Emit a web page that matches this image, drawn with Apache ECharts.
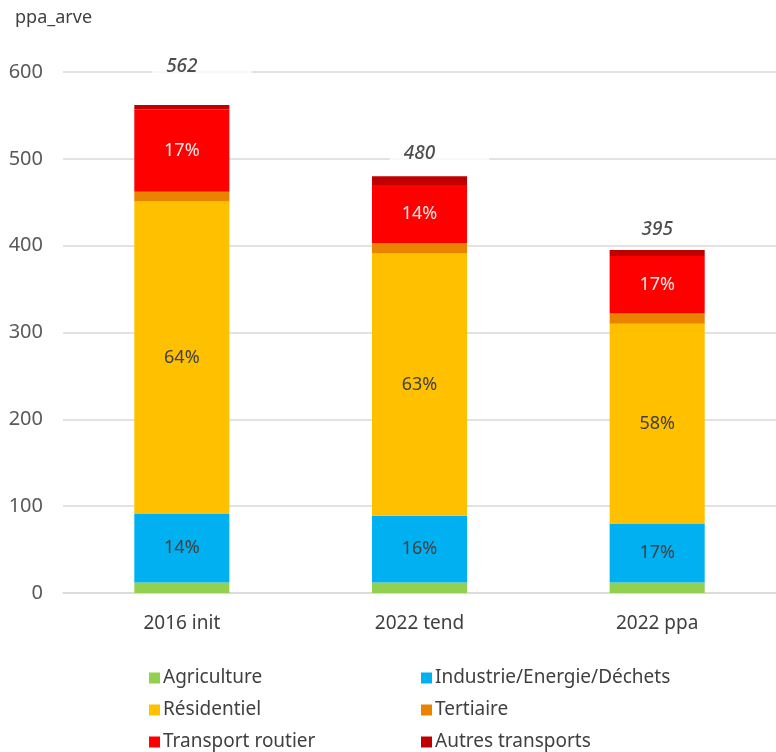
<!DOCTYPE html>
<html>
<head>
<meta charset="utf-8">
<script src="https://cdn.jsdelivr.net/npm/echarts@6/dist/echarts.min.js"></script>
<style>html,body{margin:0;padding:0;background:#fff}#c{width:776px;height:752px}</style>
</head>
<body>
<div id="c"></div>
<script>
const categories = ['2016 init', '2022 tend', '2022 ppa'];
const yTicks = [0, 100, 200, 300, 400, 500, 600];
const agriculture = [12, 12, 12];
const industrie = [79, 77, 68];
const residentiel = [360, 302, 230];
const tertiaire = [11, 12, 12];
const transportRoutier = [95, 67, 66];
const autresTransports = [5, 10, 7];
const seriesNames = ['Agriculture', 'Industrie/Energie/Déchets', 'Résidentiel', 'Tertiaire', 'Transport routier', 'Autres transports'];
const pctShown = [false, true, true, false, true, false];

const FONT = 'Noto Sans';
const colors = ['#92D050', '#00B0F0', '#FFC000', '#E98300', '#FF0000', '#C00000'];
const pctColors = ['#404040', '#404040', '#404040', '#404040', '#FFE8E8', '#404040'];
const all = [agriculture, industrie, residentiel, tertiaire, transportRoutier, autresTransports];
const totals = categories.map((_, i) => all.reduce((s, a) => s + a[i], 0));
const totalOffsets = [-38, -23, -20];

const chart = echarts.init(document.getElementById('c'), null, {renderer: 'canvas'});
const series = all.map((arr, k) => ({
  name: seriesNames[k],
  type: 'bar',
  stack: 'total',
  barWidth: '40%',
  itemStyle: {color: colors[k]},
  data: arr,
  label: {
    show: pctShown[k],
    position: 'inside',
    fontFamily: FONT,
    fontSize: 18,
    color: pctColors[k],
    formatter: p => Math.round(p.value / totals[p.dataIndex] * 100) + '%'
  }
}));
series.push({
  name: 'total',
  type: 'scatter',
  symbolSize: 0,
  silent: true,
  z: 5,
  data: totals.map((v, i) => ({
    value: v,
    label: {offset: [20, totalOffsets[i]]}
  })),
  label: {
    show: true,
    position: 'inside',
    fontFamily: FONT,
    fontSize: 19,
    fontStyle: 'italic',
    fontWeight: 500,
    color: '#1f1f1f',
    backgroundColor: '#fff',
    padding: [3, 54, 3, 14],
    formatter: p => String(p.value)
  }
});

const legendBase = {
  orient: 'vertical', top: 663, height: 120, itemGap: 12,
  itemWidth: 11, itemHeight: 11, icon: 'rect',
  textStyle: {fontFamily: FONT, fontSize: 19, lineHeight: 20, color: '#404040', padding: [0, 0, 0, -2]}
};

chart.setOption({
  animation: false,
  backgroundColor: '#fff',
  textStyle: {fontFamily: FONT},
  title: {
    text: 'ppa_arve', left: 10, top: 4,
    textStyle: {fontFamily: FONT, fontSize: 18, fontWeight: 'normal', color: '#404040'}
  },
  grid: {left: 63, top: 72, width: 719, bottom: 159, containLabel: false},
  xAxis: {
    type: 'category',
    data: categories,
    axisLine: {show: true, lineStyle: {color: '#d9d9d9', width: 1.5}},
    axisTick: {show: false},
    axisLabel: {fontFamily: FONT, fontSize: 19, color: '#404040', margin: 21}
  },
  yAxis: {
    type: 'value',
    min: yTicks[0], max: yTicks[yTicks.length - 1], interval: 100,
    axisLine: {show: false},
    axisTick: {show: false},
    splitLine: {lineStyle: {color: '#d9d9d9', width: 1.5}},
    axisLabel: {fontFamily: FONT, fontSize: 20, color: '#595959', margin: 20}
  },
  legend: [
    Object.assign({}, legendBase, {left: 144, data: [seriesNames[0], seriesNames[2], seriesNames[4]]}),
    Object.assign({}, legendBase, {left: 416, data: [seriesNames[1], seriesNames[3], seriesNames[5]]})
  ],
  series: series
});
</script>
</body>
</html>
